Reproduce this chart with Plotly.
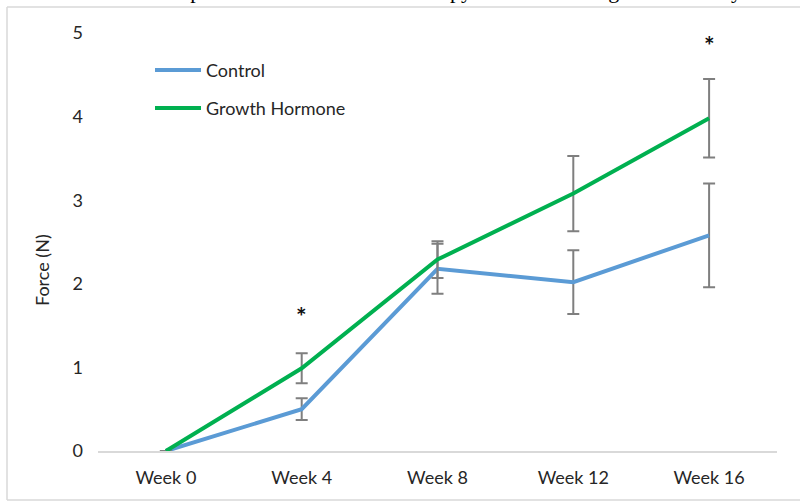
import plotly.graph_objects as go

# ---- data ----
weeks = ["Week 0", "Week 4", "Week 8", "Week 12", "Week 16"]
control = [0, 0.50, 2.18, 2.02, 2.58]
control_err = [None, 0.13, 0.30, 0.38, 0.62]
growth = [0, 0.99, 2.29, 3.08, 3.98]
growth_err = [None, 0.18, 0.22, 0.45, 0.47]
sig_weeks = ["Week 4", "Week 16"]
sig_y = [1.62, 4.86]
series_names = ["Control", "Growth Hormone"]
y_ticks = [0, 1, 2, 3, 4, 5]
caption = "Force at each time point after the course of therapy with the healing and the study"

BLUE = "#5b9bd5"
GREEN = "#00b050"
ERR = "#7f7f7f"
FONT = "Lato, Carlito, Calibri, sans-serif"
TXT = "#262626"

W, H = 800, 502
L, R, T, B = 98, 23, 33, 51
PW, PH = W - L - R, H - T - B


def px(x):
    return (x - L) / PW


def py(y):
    return (H - B - y) / PH


fig = go.Figure()
for name, vals, errs, col in [(series_names[0], control, control_err, BLUE),
                              (series_names[1], growth, growth_err, GREEN)]:
    fig.add_trace(go.Scatter(
        x=weeks, y=vals, name=name, mode="lines",
        line=dict(color=col, width=4),
        error_y=dict(type="data", array=errs, visible=True,
                     color=ERR, thickness=2, width=6),
        showlegend=False,
    ))

# significance asterisks
for wk, yv in zip(sig_weeks, sig_y):
    fig.add_annotation(x=wk, y=yv, xref="x", yref="y", text="<b>*</b>",
                       showarrow=False, font=dict(family=FONT, size=25, color="#111"))

# manual legend (Excel-style long swatches)
shapes = []
leg_rows = [(series_names[0], BLUE, 70), (series_names[1], GREEN, 108)]
for name, col, yy in leg_rows:
    shapes.append(dict(type="line", xref="paper", yref="paper",
                       x0=px(155), x1=px(201), y0=py(yy), y1=py(yy),
                       line=dict(color=col, width=4)))
    fig.add_annotation(x=px(204), y=py(yy), xref="paper", yref="paper",
                       text=name, showarrow=False, xanchor="left", yanchor="middle",
                       font=dict(family=FONT, size=18, color=TXT))

# chart border (light gray frame: left, top, bottom)
for x0, y0, x1, y1 in [(7, 7, 7, 500), (7, 7, 800, 7), (7, 500, 800, 500)]:
    shapes.append(dict(type="line", xref="paper", yref="paper",
                       x0=px(x0), x1=px(x1), y0=py(y0), y1=py(y1),
                       line=dict(color="#d9d9d9", width=1.5), layer="below"))

# y-axis title
fig.add_annotation(x=px(42), y=py(270), xref="paper", yref="paper",
                   text="Force (N)", textangle=-90, showarrow=False,
                   xanchor="center", yanchor="middle",
                   font=dict(family=FONT, size=18, color=TXT))

# cropped caption at top (only descenders visible, as in the reference)
fig.add_annotation(x=px(21), y=py(5), xref="paper", yref="paper",
                   text=caption, showarrow=False, xanchor="left", yanchor="bottom",
                   font=dict(family="Liberation Serif, Times New Roman, serif", size=22, color="#000"))

fig.update_layout(
    width=W, height=H,
    margin=dict(l=L, r=R, t=T, b=B),
    paper_bgcolor="white", plot_bgcolor="white",
    shapes=shapes,
    font=dict(family=FONT, size=18, color=TXT),
    xaxis=dict(type="category", range=[-0.5, 4.5], showgrid=False,
               showline=True, linecolor="#d9d9d9", linewidth=1.5,
               ticks="", ticklabelstandoff=10, zeroline=False,
               tickfont=dict(family=FONT, size=18, color=TXT)),
    yaxis=dict(range=[0, 5], tickvals=y_ticks, showgrid=False, zeroline=False,
               showline=False, ticks="", ticklabelstandoff=14,
               tickfont=dict(family=FONT, size=18, color=TXT)),
)

fig.write_html(
    "out.html", config={"displayModeBar": False},
    post_script=("document.body.style.margin='0';"
                 "document.body.style.overflow='hidden';"
                 "document.documentElement.style.overflow='hidden';"),
)
